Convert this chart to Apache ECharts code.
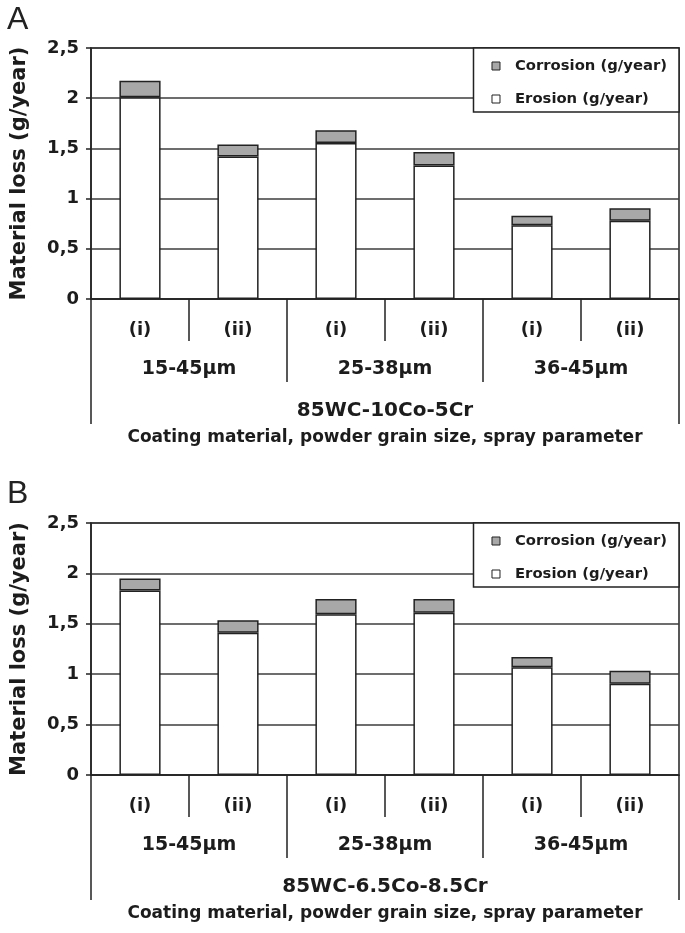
<!DOCTYPE html>
<html>
<head>
<meta charset="utf-8">
<script src="https://cdn.jsdelivr.net/npm/echarts@6/dist/echarts.min.js"></script>
<style>
html, body { margin: 0; padding: 0; background: #fff; }
#chart { width: 685px; height: 933px; }
</style>
</head>
<body>
<div id="chart"></div>
<script>
// ---- data ----
const sprayParams = ['(i)', '(ii)', '(i)', '(ii)', '(i)', '(ii)'];
const grainSizes = ['15-45μm', '25-38μm', '36-45μm'];
const materialA = '85WC-10Co-5Cr';
const materialB = '85WC-6.5Co-8.5Cr';
const axisTitleX = 'Coating material, powder grain size, spray parameter';
const axisTitleY = 'Material loss (g/year)';
const panelLabels = ['A', 'B'];
const seriesNames = ['Corrosion (g/year)', 'Erosion (g/year)'];
const erosionA = [2.01, 1.42, 1.555, 1.33, 0.735, 0.78];
const corrosionA = [0.165, 0.12, 0.125, 0.135, 0.095, 0.125];
const erosionB = [1.83, 1.41, 1.595, 1.61, 1.07, 0.905];
const corrosionB = [0.12, 0.125, 0.15, 0.135, 0.1, 0.13];
const yMin = 0, yMax = 2.5, yStep = 0.5;

// ---- styling ----
const FONT = 'DejaVu Sans';
const INK = '#1c1c1c';
const LINE = '#222';
const panels = [
  { top: 48, height: 251, material: materialA, erosion: erosionA, corrosion: corrosionA, labelTop: 4 },
  { top: 523, height: 252, material: materialB, erosion: erosionB, corrosion: corrosionB, labelTop: 478 }
];

const grid = [], xAxis = [], yAxis = [], series = [], legend = [], title = [];
panels.forEach((p, gi) => {
  grid.push({
    left: 91, right: 6, top: p.top, height: p.height,
    show: true, borderColor: LINE, borderWidth: 1.5, backgroundColor: '#fff'
  });
  title.push({
    text: panelLabels[gi], left: 7, top: p.labelTop, padding: 0,
    textStyle: { fontFamily: 'Liberation Sans', fontWeight: 'normal', fontSize: 32, lineHeight: 32, color: '#222' }
  });
  yAxis.push({
    type: 'value', gridIndex: gi, min: yMin, max: yMax, interval: yStep,
    axisLine: { show: true, lineStyle: { color: LINE, width: 1.5 } },
    axisTick: { show: true, length: 5, lineStyle: { color: LINE, width: 1.5 } },
    splitLine: { show: true, lineStyle: { color: '#3c3c3c', width: 1.6 } },
    axisLabel: {
      margin: 12, fontFamily: FONT, fontWeight: 'bold', fontSize: 18, color: INK,
      formatter: v => String(v).replace('.', ',')
    },
    name: axisTitleY, nameLocation: 'middle', nameGap: 71,
    nameTextStyle: { fontFamily: FONT, fontWeight: 'bold', fontSize: 21, color: INK, verticalAlign: 'middle' }
  });
  const tickStyle = { color: LINE, width: 1.5 };
  // level 1: spray parameters
  xAxis.push({
    type: 'category', gridIndex: gi, data: sprayParams, position: 'bottom',
    axisLine: { show: true, lineStyle: { color: LINE, width: 1.5 } },
    axisTick: { show: true, interval: 0, length: 42, lineStyle: tickStyle },
    axisLabel: { interval: 0, margin: 31, verticalAlign: 'middle', fontFamily: FONT, fontWeight: 'bold', fontSize: 18, color: INK }
  });
  // level 2: grain sizes
  xAxis.push({
    type: 'category', gridIndex: gi, data: grainSizes, position: 'bottom',
    axisLine: { show: false },
    axisTick: { show: true, interval: 0, length: 83, lineStyle: tickStyle },
    axisLabel: { interval: 0, margin: 70, verticalAlign: 'middle', fontFamily: FONT, fontWeight: 'bold', fontSize: 19, color: INK }
  });
  // level 3: material + axis title
  xAxis.push({
    type: 'category', gridIndex: gi, data: [p.material], position: 'bottom',
    axisLine: { show: false },
    axisTick: { show: true, interval: 0, length: 125, lineStyle: tickStyle },
    axisLabel: { interval: 0, margin: 112, verticalAlign: 'middle', fontFamily: FONT, fontWeight: 'bold', fontSize: 20, color: INK },
    name: axisTitleX, nameLocation: 'middle', nameGap: 139,
    nameTextStyle: { fontFamily: FONT, fontWeight: 'bold', fontSize: 17, color: INK, verticalAlign: 'middle' }
  });
  const xi = gi * 3;
  series.push({
    name: seriesNames[1], type: 'bar', stack: 'loss' + gi, xAxisIndex: xi, yAxisIndex: gi,
    data: p.erosion, barWidth: '42%',
    itemStyle: { color: '#ffffff', borderColor: LINE, borderWidth: 1.5 }
  });
  series.push({
    name: seriesNames[0], type: 'bar', stack: 'loss' + gi, xAxisIndex: xi, yAxisIndex: gi,
    data: p.corrosion, barWidth: '42%',
    itemStyle: { color: '#a8a8a8', borderColor: LINE, borderWidth: 1.5 }
  });
  legend.push({
    data: seriesNames, orient: 'vertical', right: 6, top: p.top,
    backgroundColor: '#fff', borderColor: LINE, borderWidth: 1.5,
    padding: [10, 12, 5, 18], itemGap: 17, itemWidth: 8, itemHeight: 8, icon: 'rect',
    itemStyle: { borderWidth: 1 },
    selectedMode: false,
    textStyle: { fontFamily: FONT, fontWeight: 'bold', fontSize: 14.8, lineHeight: 16, color: INK, padding: [0, 0, 0, 10] }
  });
});

const chart = echarts.init(document.getElementById('chart'), null, { renderer: 'canvas' });
chart.setOption({
  animation: false,
  backgroundColor: '#fff',
  title, grid, xAxis, yAxis, series, legend
});
</script>
</body>
</html>
